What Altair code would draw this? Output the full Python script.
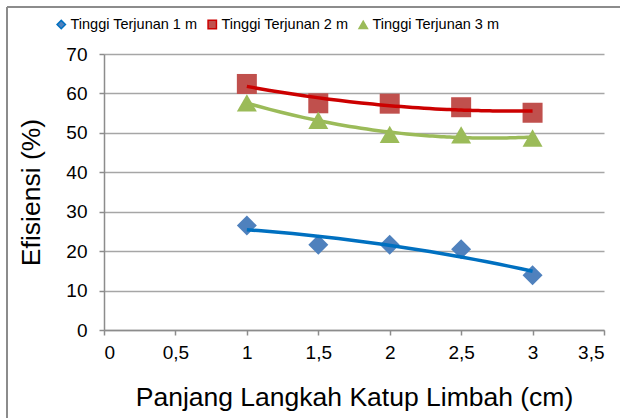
import altair as alt
import pandas as pd

# Panjang langkah katup limbah (cm)
langkah = [1, 1.5, 2, 2.5, 3]

# Efisiensi (%) per tinggi terjunan
efisiensi_1m = [26.5, 21.6, 21.6, 20.5, 13.9]
efisiensi_2m = [62.4, 57.5, 57.4, 56.5, 55.1]
efisiensi_3m = [57.6, 53.2, 49.6, 49.5, 48.7]

seri = ["Tinggi Terjunan 1 m", "Tinggi Terjunan 2 m", "Tinggi Terjunan 3 m"]
warna_titik = ["#4F81BD", "#C0504D", "#9BBB59"]
warna_tren = ["#0070C0", "#CC0000", "#9BBB59"]
bentuk = ["diamond", "square", "triangle-up"]

x_ticks = [0, 0.5, 1, 1.5, 2, 2.5, 3, 3.5]
y_ticks = [0, 10, 20, 30, 40, 50, 60, 70]

rows = []
for name, vals in zip(seri, [efisiensi_1m, efisiensi_2m, efisiensi_3m]):
    for x, y in zip(langkah, vals):
        rows.append({"langkah": x, "efisiensi": y, "seri": name})
df = pd.DataFrame(rows)

FONT = "Liberation Sans"
W, H = 500, 276
PAD_L, PAD_T = 104, 54

axis_style = dict(
    labelFont=FONT,
    labelFontSize=19,
    labelColor="#000000",
    labelOverlap=False,
    titleFont=FONT,
    titleFontSize=26.5,
    titleFontWeight="normal",
    titleColor="#000000",
    domainColor="#8C8C8C",
    domainWidth=1.5,
    tickColor="#8C8C8C",
    tickWidth=1.5,
    tickSize=5,
    gridColor="#A6A6A6",
    gridWidth=1.5,
)

x_enc = alt.X(
    "langkah:Q",
    title="Panjang Langkah Katup Limbah (cm)",
    scale=alt.Scale(domain=[0, 3.5], nice=False, zero=False),
    axis=alt.Axis(
        values=x_ticks,
        labelExpr="replace(toString(datum.value), '.', ',')",
        grid=False,
        labelPadding=8,
        titlePadding=22,
        **axis_style,
    ),
)
y_enc = alt.Y(
    "efisiensi:Q",
    title="Efisiensi (%)",
    scale=alt.Scale(domain=[0, 70], nice=False),
    axis=alt.Axis(values=y_ticks, grid=True, labelPadding=12, titlePadding=20,
                  **axis_style),
)

points = alt.Chart(df).mark_point(filled=True, opacity=1, size=400).encode(
    x=x_enc,
    y=y_enc,
    color=alt.Color(
        "seri:N",
        scale=alt.Scale(domain=seri, range=warna_titik),
        legend=alt.Legend(
            title=None,
            orient="none",
            direction="horizontal",
            legendX=-50,
            legendY=-37,
            labelFont=FONT,
            labelFontSize=14.5,
            labelColor="#000000",
            symbolSize=70,
            symbolOffset=0,
            labelOffset=2,
            columnPadding=7,
        ),
    ),
    shape=alt.Shape("seri:N", scale=alt.Scale(domain=seri, range=bentuk)),
)

trend = (
    alt.Chart(df)
    .transform_regression(
        "langkah", "efisiensi", groupby=["seri"], method="poly", order=2,
        extent=[1, 3],
    )
    .mark_line(strokeWidth=3.5)
    .encode(
        x=x_enc,
        y=y_enc,
        stroke=alt.Stroke("seri:N", scale=alt.Scale(domain=seri, range=warna_tren),
                          legend=None),
    )
)

# Bingkai luar grafik (kiri dan atas)
frame_left = alt.Chart(df).mark_rule(color="#8C8C8C", strokeWidth=1.5).encode(
    x=alt.value(7 - PAD_L), y=alt.value(7 - PAD_T), y2=alt.value(430 - PAD_T)
)
frame_top = alt.Chart(df).mark_rule(color="#8C8C8C", strokeWidth=1.5).encode(
    x=alt.value(7 - PAD_L), x2=alt.value(630 - PAD_L), y=alt.value(7 - PAD_T)
)

chart = (
    alt.layer(frame_left, frame_top, points, trend)
    .properties(
        width=W,
        height=H,
        autosize=alt.AutoSizeParams(type="none"),
        padding={"left": PAD_L, "top": PAD_T, "right": 620 - PAD_L - W, "bottom": 418 - PAD_T - H},
        background="#FFFFFF",
    )
    .configure_view(stroke=None)
)

chart.save("out.html", embed_options={"renderer": "svg", "actions": False})
